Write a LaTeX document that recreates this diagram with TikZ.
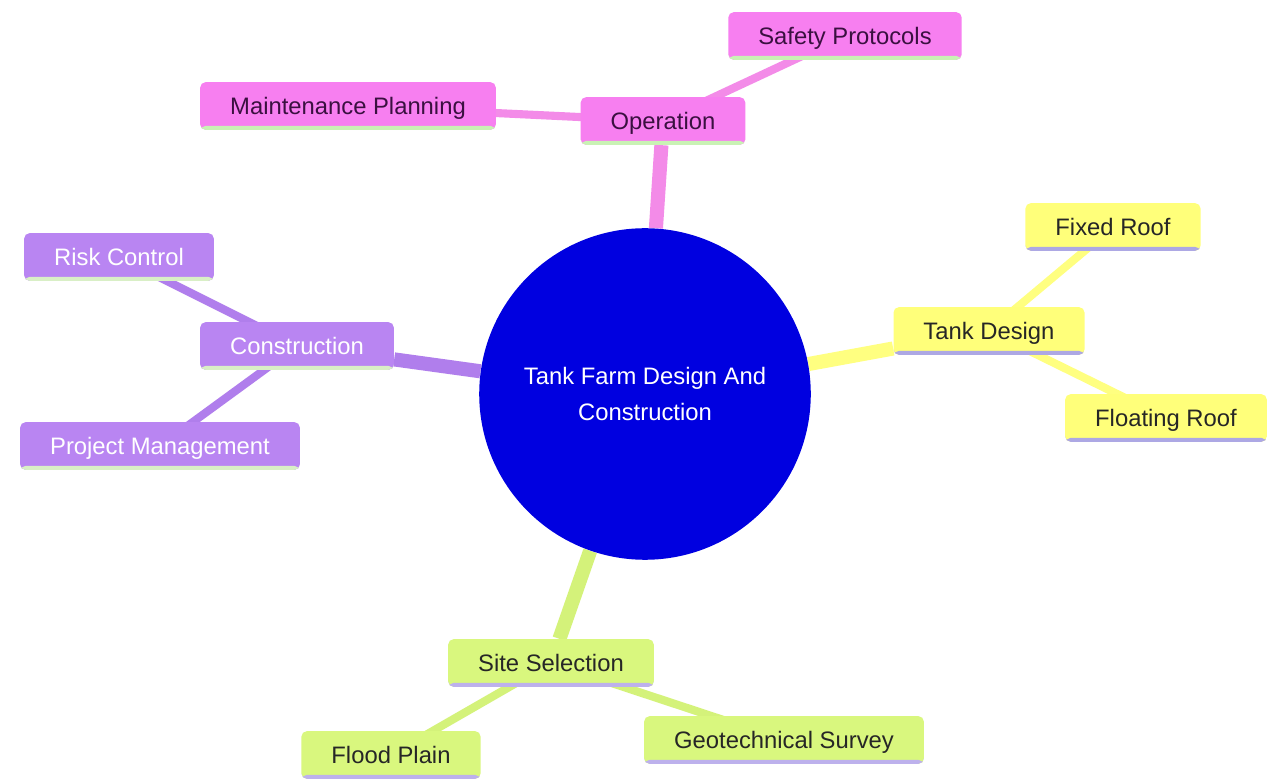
\documentclass[tikz,border=0pt]{standalone}
\usepackage{fontspec}
\setmainfont{Liberation Sans}
\usetikzlibrary{backgrounds}
\definecolor{rootblue}{HTML}{0000E0}
\definecolor{opfill}{HTML}{F77FF0}
\definecolor{opedge}{HTML}{F38BE8}
\definecolor{optext}{HTML}{3A1040}
\definecolor{oprule}{HTML}{C9F2B4}
\definecolor{tdfill}{HTML}{FFFF7A}
\definecolor{tdedge}{HTML}{FFFF80}
\definecolor{tdrule}{HTML}{ADA8E4}
\definecolor{cofill}{HTML}{B985F2}
\definecolor{coedge}{HTML}{B07EEC}
\definecolor{corule}{HTML}{D9EFC6}
\definecolor{ssfill}{HTML}{D9F77E}
\definecolor{ssedge}{HTML}{D4F27A}
\definecolor{ssrule}{HTML}{BDB1EC}
\tikzset{
	mapnode/.style={rectangle, rounded corners=3pt, inner xsep=17pt, minimum height=27pt,
		text height=11.5pt, text depth=2pt, font=\fontsize{13.5}{16}\selectfont},
	underrule/.style={path picture={\fill[#1] ([yshift=2.2pt]path picture bounding box.south west) rectangle (path picture bounding box.south east);}},
	opnode/.style={mapnode, fill=opfill, text=optext, underrule=oprule},
	tdnode/.style={mapnode, fill=tdfill, text=black!85, underrule=tdrule},
	conode/.style={mapnode, fill=cofill, text=white, underrule=corule},
	ssnode/.style={mapnode, fill=ssfill, text=black!85, underrule=ssrule},
	rootlink/.style={line width=8pt},
	leaflink/.style={line width=4.6pt}
}
\begin{document}
\begin{tikzpicture}[x=0.567pt, y=-0.567pt]
	\useasboundingbox (0,0) rectangle (1267,781);

	% root
	\node[circle, fill=rootblue, minimum size=188pt, text=white, align=center,
		font=\fontsize{13.5}{20}\selectfont] (root) at (645,394) {Tank Farm Design And\\Construction};

	% operation branch
	\node[opnode] (operation) at (663,121) {Operation};
	\node[opnode] (safety) at (845,36) {Safety Protocols};
	\node[opnode] (maint) at (348,106) {Maintenance Planning};

	% tank design branch
	\node[tdnode] (tankdesign) at (989,331) {Tank Design};
	\node[tdnode] (fixed) at (1113,227) {Fixed Roof};
	\node[tdnode] (floating) at (1166,418) {Floating Roof};

	% construction branch
	\node[conode] (construction) at (297,346) {Construction};
	\node[conode] (risk) at (119,257) {Risk Control};
	\node[conode] (project) at (160,446) {Project Management};

	% site selection branch
	\node[ssnode] (site) at (551,663) {Site Selection};
	\node[ssnode] (flood) at (391,755) {Flood Plain};
	\node[ssnode] (geo) at (784,740) {Geotechnical Survey};

	\begin{scope}[on background layer]
		\fill[white] (0,0) rectangle (1267,781);
		\draw[opedge, rootlink] (root) -- (operation);
		\draw[tdedge, rootlink] (root) -- (tankdesign);
		\draw[coedge, rootlink] (root) -- (construction);
		\draw[ssedge, rootlink] (root) -- (site);
		\draw[opedge, leaflink] (operation.center) -- (safety.center);
		\draw[opedge, leaflink] (operation.center) -- (maint.center);
		\draw[tdedge, leaflink] (tankdesign.center) -- (fixed.center);
		\draw[tdedge, leaflink] (tankdesign.center) -- (floating.center);
		\draw[coedge, leaflink] (construction.center) -- (risk.center);
		\draw[coedge, leaflink] (construction.center) -- (project.center);
		\draw[ssedge, leaflink] (site.center) -- (flood.center);
		\draw[ssedge, leaflink] (site.center) -- (geo.center);
	\end{scope}
\end{tikzpicture}
\end{document}
